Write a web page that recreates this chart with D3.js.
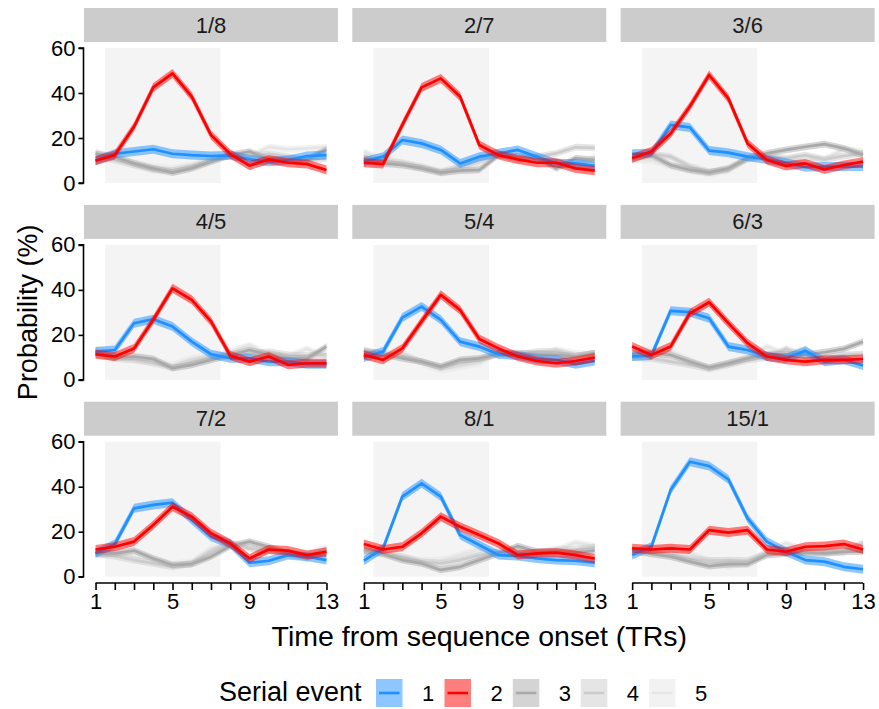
<!DOCTYPE html>
<html><head><meta charset="utf-8">
<script src="https://cdn.jsdelivr.net/npm/d3@7"></script>
<style>body{margin:0;background:#fff}svg{display:block;font-family:"Liberation Sans",Arial,Helvetica,sans-serif}</style>
</head><body>
<script>
// ---- data ----
const timepoints = [1,2,3,4,5,6,7,8,9,10,11,12,13];
const panels = ["1/8","2/7","3/6","4/5","5/4","6/3","7/2","8/1","15/1"];
const seriesNames = ["1","2","3","4","5"];
const seriesColors = ["#1E90FF","#FF0000","#A9A9A9","#CCCCCC","#E5E5E5"];
const seriesSE = [2.0, 2.0, 1.5, 1.5, 1.5];
const eventWindow = [1.5, 7.5];
const xTicks = [1,5,9,13];
const yTicks = [0,20,40,60];

// series values per panel: [event1, event2, event3, event4, event5]
const p1_8 = [
 [10,13,14,15,13,12.4,12,12.3,10.5,9.5,10.2,12,12.4],
 [9.9,12.4,25,42.5,48.7,38.4,21.3,12.9,7.7,10.5,9,8.4,5.8],
 [13,11.7,8.7,6.5,4.6,6.5,9.5,12.4,14,10.5,10.2,10.5,15],
 [11.7,10.2,8,5.8,5.5,7.3,10.2,12.4,11.7,13,11.7,10,11],
 [14,11,9,7.3,6.5,8,10.5,12,11.7,16,15,15.4,16]];
const p2_7 = [
 [9.5,11.7,19.1,17.6,14.7,8.7,11.7,13.2,14.7,11.7,8.7,8.7,7.6],
 [9,8.4,25.8,42.5,46.5,38.4,16.9,12.4,10.5,9,9,6.5,5.5],
 [11,8.7,8,6.5,4.6,5.5,5.8,12.4,11.7,11.4,6.5,11,10.2],
 [11.7,10,9,7.3,5,7.3,10.2,13,10.2,11.7,13.2,15.9,15.6],
 [14,10.5,8.7,6.5,4.3,6.5,8.7,13.2,11.7,10.5,10,8,11.7]];
const p3_6 = [
 [13,13.2,25.8,24.7,14.4,13.5,11.7,10.5,9,7,7.3,7.3,7.3],
 [11,14,22,34,48,37.6,17.6,10.2,7.6,8.7,6,8,9.5],
 [11.4,12.4,8,5.8,4.6,6.5,11,13.2,14.7,16.1,17.3,15.4,12.4],
 [10.5,13,11.7,7.3,5,5.8,11,12,11,12.4,10.5,12,13.2],
 [10,10.2,7.3,5.5,4,5.8,10.5,11.7,10.5,10,10.5,15,14]];
const p4_5 = [
 [12.6,13.3,25.2,27,23.7,17,11.4,9.6,9.6,8.1,8.1,7,7],
 [11.4,10.4,14,26.7,40.7,35.6,26,10.8,8.1,10.4,6.7,7.4,7.4],
 [11.4,9.9,10.4,9.3,5.2,6.7,8.9,11.1,13.3,11.1,9.6,9.6,14.8],
 [12.6,9.6,8.9,7.4,5.5,8.1,9.9,11.4,11.4,12.6,11.1,10.8,11.4],
 [13.8,11.9,9.6,8.4,6.7,9.6,10.8,12.6,15.6,11.1,10.4,13.8,9.9]];
const p5_4 = [
 [9.9,12.6,27.7,32.6,26.7,17,14.8,11.4,10.8,9.3,8.9,7,8.4],
 [11.1,8.9,14,26,37.8,31.1,18.2,14,10.4,8.4,7.4,8.4,9.9],
 [12.9,11.4,9.6,8.1,5.9,8.9,9.6,11.4,11.9,11.4,11.1,10.4,11.9],
 [11.9,10.4,10.8,8.1,5.5,7.4,8.9,11.9,11.1,12.6,12.9,10.4,11.9],
 [13.3,11.4,12.3,7.4,4.4,5.9,7.4,12.3,10.4,9.9,13.3,11.9,11.4]];
const p6_3 = [
 [10.4,10.8,30.7,30.1,27.4,14.8,13.3,10.4,9.6,12.9,8.1,8.9,6.4],
 [14.8,11.1,14.8,29.6,34.5,25.2,16.3,10.4,8.9,8.1,8.9,8.9,9.3],
 [11.4,11.9,11.1,8.1,5.5,7.4,9.6,11.4,11.4,11.1,12.3,13.8,17],
 [9.9,9.6,8.1,6.7,4.9,6.7,8.9,9.9,13.8,10.4,9.9,11.1,11.4],
 [12.6,13.3,12.6,8.9,5.2,7.4,9.9,14.8,11.4,13.8,8.1,10.8,11.1]];
const p7_2 = [
 [10.4,14.5,30.4,31.9,32.9,25.2,17.8,14.5,6.2,7.1,9.6,8.9,7.4],
 [12.1,13.3,15.6,23,31.1,26.7,19.3,14.8,8.1,12.1,11.6,9.6,11.1],
 [10.4,10.4,11.6,8.1,5.2,5.6,8.9,13.6,15.6,13.3,10.4,8.9,10.4],
 [10.1,9.2,7.4,5.9,4.4,5.9,11.1,15.1,12.6,11.6,10.4,8.1,11.9],
 [9.6,10.1,8.9,7.4,5.6,6.7,12.6,14.5,13.3,11.9,10.7,10.1,13]];
const p8_1 = [
 [7.1,12.6,35.6,41.5,35.6,18.5,14.1,9.6,9.2,8.1,7.4,7.1,6.2],
 [14.5,12.1,13.3,19.3,26.7,22.2,18.5,14.8,9.6,10.4,10.7,9.6,8.1],
 [11.9,10.1,7.4,5.9,3,4.4,7.4,10.4,13.6,11.1,11.1,10.7,11.6],
 [10.4,10.7,8.9,6.7,5.9,7.4,9.6,11.1,11.6,10.4,11.9,12.1,13.3],
 [11.9,10.1,8.1,7.1,7.4,9.6,12.1,11.6,10.4,11.1,11.9,15.1,13.6]];
const p15_1 = [
 [9.6,13.3,38.5,51.1,49.2,43.3,25.9,15.6,11.1,7.4,6.7,4.4,3.3],
 [12.6,12.1,12.6,12.1,20.7,19.6,20.7,12.1,11.1,13.3,13.6,14.5,12.1],
 [11.6,10.1,8.9,6.7,4.7,5.6,5.6,9.6,10.4,10.7,10.4,11.1,11.1],
 [11.9,11.1,10.1,8.1,7.1,7.4,7.1,10.4,12.1,11.1,10.7,11.6,14.5],
 [12.1,11.6,13.3,10.4,7.4,4.4,6.7,11.1,14.8,11.9,11.6,10.4,15.6]];
const panelValues = [p1_8,p2_7,p3_6,p4_5,p5_4,p6_3,p7_2,p8_1,p15_1];

// ---- layout ----
const W = 879, H = 709;
const colX = [84, 352.3, 620.6], rowY = [48, 244.9, 441.7];
const pw = 254, ph = 135;
const tickFont = 22, titleFont = 27, xTitleFont = 28.5;

const svg = d3.select("body").append("svg").attr("width", W).attr("height", H);
const x = d3.scaleLinear().domain([0.4, 13.6]).range([0, pw]);
const y = d3.scaleLinear().domain([0, 60]).range([ph, 0]);
const drawOrder = [4,3,2,0,1];

panels.forEach((name, i) => {
  const r = Math.floor(i / 3), c = i % 3;
  const g = svg.append("g").attr("transform", `translate(${colX[c]},${rowY[r]})`);
  // strip
  g.append("rect").attr("x", 0).attr("y", -40).attr("width", pw).attr("height", 34).attr("fill", "#CCCCCC");
  g.append("text").attr("x", pw/2).attr("y", -15.5).attr("text-anchor", "middle")
    .attr("font-size", tickFont).attr("fill", "#1a1a1a").text(name);
  // event window shading
  g.append("rect").attr("x", x(eventWindow[0])).attr("width", x(eventWindow[1]) - x(eventWindow[0]))
    .attr("y", y(60)).attr("height", y(0) - y(60)).attr("fill", "#F4F4F4");
  const vals = panelValues[i];
  drawOrder.forEach(s => {
    const pts = timepoints.map((t, k) => ({t, v: vals[s][k]}));
    const se = seriesSE[s];
    g.append("path").datum(pts)
      .attr("d", d3.area().x(d => x(d.t)).y0(d => y(d.v - se)).y1(d => y(d.v + se)))
      .attr("fill", seriesColors[s]).attr("fill-opacity", 0.5);
    g.append("path").datum(pts)
      .attr("d", d3.line().x(d => x(d.t)).y(d => y(d.v)))
      .attr("fill", "none").attr("stroke", seriesColors[s]).attr("stroke-width", 2.7)
      .attr("stroke-linejoin", "round");
  });
  // y axis
  if (c === 0) {
    const ya = g.append("g").attr("transform", "translate(-0.5,0)")
      .call(d3.axisLeft(y).tickValues(yTicks).tickSize(5).tickPadding(3));
    ya.attr("font-family", null);
    ya.select(".domain").attr("stroke", "#000").attr("stroke-width", 1.6).attr("d", `M-5,${y(0)}H0V${y(60)}H-5`);
    ya.selectAll(".tick line").attr("stroke", "#000").attr("stroke-width", 1.6);
    ya.selectAll("text").attr("font-size", tickFont).attr("fill", "#000");
  }
  // x axis
  if (r === 2) {
    const xa = g.append("g").attr("transform", `translate(0,${ph + 6.3})`)
      .call(d3.axisBottom(x).tickValues(timepoints).tickSize(7).tickPadding(3)
        .tickFormat(d => xTicks.includes(d) ? d : ""));
    xa.attr("font-family", null);
    xa.select(".domain").attr("stroke", "#000").attr("stroke-width", 1.6).attr("d", `M${x(1)},0H${x(13)}`);
    xa.selectAll(".tick line").attr("stroke", "#000").attr("stroke-width", 1.6);
    xa.selectAll("text").attr("font-size", tickFont).attr("fill", "#000");
  }
});

// axis titles
svg.append("text").attr("transform", `translate(37,${(rowY[0] + rowY[2] + ph) / 2}) rotate(-90)`)
  .attr("text-anchor", "middle").attr("font-size", titleFont).text("Probability (%)");
svg.append("text").attr("x", (colX[0] + colX[2] + pw) / 2).attr("y", 646)
  .attr("text-anchor", "middle").attr("font-size", xTitleFont).text("Time from sequence onset (TRs)");

// legend
const lg = svg.append("g");
lg.append("text").attr("x", 219).attr("y", 701).attr("font-size", titleFont).text("Serial event");
const keyX = [376, 444.5, 512.8, 580.8, 649];
seriesNames.forEach((n, s) => {
  const kx = keyX[s];
  lg.append("rect").attr("x", kx).attr("y", 679).attr("width", 26.5).attr("height", 28)
    .attr("fill", seriesColors[s]).attr("fill-opacity", 0.5);
  lg.append("line").attr("x1", kx + 3).attr("x2", kx + 23.5).attr("y1", 693).attr("y2", 693)
    .attr("stroke", seriesColors[s]).attr("stroke-width", 2.6);
  lg.append("text").attr("x", kx + 46).attr("y", 701).attr("font-size", tickFont).text(n);
});
</script>
</body></html>
